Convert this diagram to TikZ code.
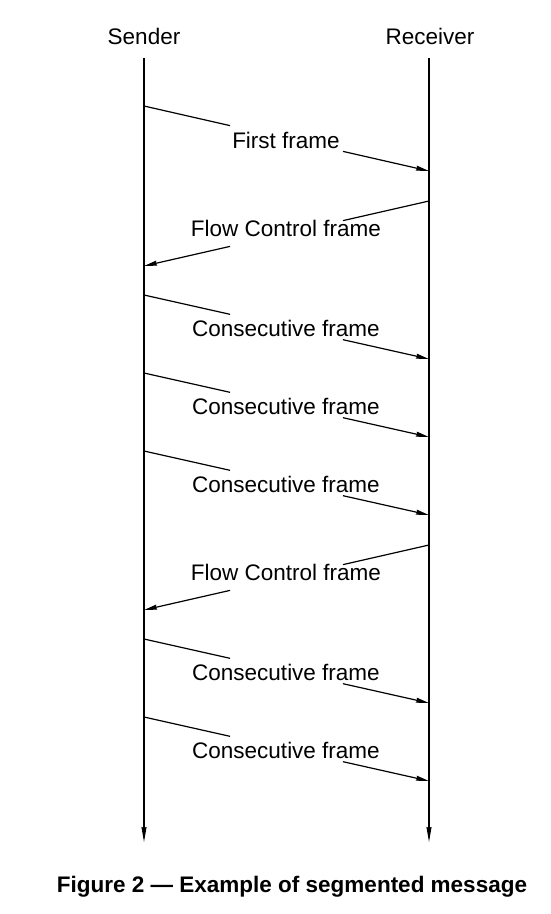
\documentclass[tikz,border=0pt]{standalone}
\usepackage{fontspec}
\setmainfont{Liberation Sans}
\usetikzlibrary{arrows.meta,calc}
\begin{document}
\begin{tikzpicture}[x=1pt,y=-1pt,
  lbl/.style={font=\fontsize{22.5}{26}\selectfont, inner sep=0pt, anchor=center},
  life/.style={line width=1.2pt, -{Stealth[length=15pt,width=5pt,inset=1pt]}},
  msg/.style={line width=1.2pt},
  msgarrow/.style={line width=1.2pt, -{Stealth[length=13pt,width=5pt,inset=1pt]}}]
\useasboundingbox (0,0) rectangle (551,914);
% lifelines
\node[lbl] (sender) at (144,36) {Sender};
\node[lbl] (receiver) at (430,36) {Receiver};
\coordinate (st) at (144,58);
\coordinate (sb) at (144,842);
\coordinate (rt) at (429,58);
\coordinate (rb) at (429,842);
\draw[life] (st) -- (sb);
\draw[life] (rt) -- (rb);
% message ends
\coordinate (a1) at (144,106); \coordinate (b1) at (429,171);
\coordinate (a2) at (429,201); \coordinate (b2) at (144,266);
\coordinate (a3) at (144,295); \coordinate (b3) at (429,359);
\coordinate (a4) at (144,373); \coordinate (b4) at (429,437);
\coordinate (a5) at (144,451); \coordinate (b5) at (429,515);
\coordinate (a6) at (429,545); \coordinate (b6) at (144,610);
\coordinate (a7) at (144,639); \coordinate (b7) at (429,703);
\coordinate (a8) at (144,717); \coordinate (b8) at (429,781);
\foreach \i in {1,...,8}{
  \draw[msg] (a\i) -- ($(a\i)!0.302!(b\i)$);
  \draw[msgarrow] ($(a\i)!0.698!(b\i)$) -- (b\i);
}
% labels
\node[lbl] (l1) at (286,140) {First frame};
\node[lbl] (l2) at (286,228) {Flow Control frame};
\node[lbl] (l3) at (286,328) {Consecutive frame};
\node[lbl] (l4) at (286,406) {Consecutive frame};
\node[lbl] (l5) at (286,484) {Consecutive frame};
\node[lbl] (l6) at (286,572) {Flow Control frame};
\node[lbl] (l7) at (286,672) {Consecutive frame};
\node[lbl] (l8) at (286,750) {Consecutive frame};
% caption
\node[lbl, font=\fontsize{22.5}{26}\selectfont\bfseries] (cap) at (292,887) {Figure 2 — Example of segmented message};
\end{tikzpicture}
\end{document}
